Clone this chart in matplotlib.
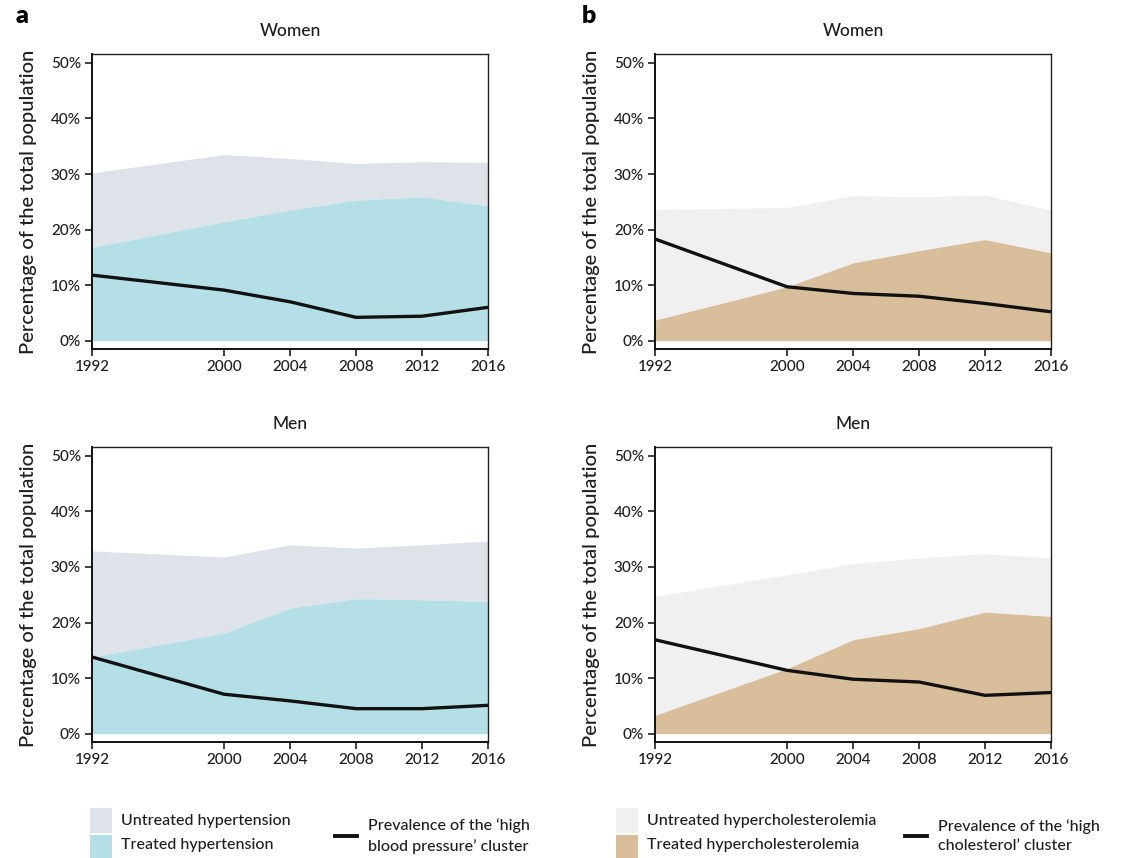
import matplotlib
matplotlib.use("Agg")
import matplotlib.pyplot as plt
from matplotlib.lines import Line2D
from matplotlib.ticker import FuncFormatter

plt.rcParams['font.family'] = ['Lato', 'DejaVu Sans']

years = [1992, 2000, 2004, 2008, 2012, 2016]
y_ticks = [0, 10, 20, 30, 40, 50]

# Panel a: hypertension (total = treated + untreated, as % of population)
htn_women_total = [30.2, 33.5, 32.8, 31.9, 32.2, 32.1]
htn_women_treated = [16.8, 21.4, 23.5, 25.3, 25.9, 24.3]
htn_women_cluster = [11.8, 9.1, 7.0, 4.2, 4.4, 6.0]

htn_men_total = [32.9, 31.8, 34.0, 33.4, 34.0, 34.7]
htn_men_treated = [13.8, 18.1, 22.6, 24.3, 24.1, 23.8]
htn_men_cluster = [13.8, 7.1, 5.9, 4.5, 4.5, 5.1]

# Panel b: hypercholesterolemia
chol_women_total = [23.6, 24.0, 26.1, 25.9, 26.2, 23.5]
chol_women_treated = [3.7, 9.7, 14.0, 16.2, 18.2, 15.8]
chol_women_cluster = [18.3, 9.7, 8.5, 8.0, 6.7, 5.2]

chol_men_total = [24.7, 28.6, 30.6, 31.6, 32.4, 31.6]
chol_men_treated = [3.3, 11.7, 16.9, 18.9, 21.9, 21.1]
chol_men_cluster = [16.9, 11.4, 9.8, 9.3, 6.9, 7.4]

HTN_UNTREATED = '#dde3e9'
HTN_TREATED = '#b5dfe6'
CHOL_UNTREATED = '#f0f0f1'
CHOL_TREATED = '#d9be9b'
TEXT = '#1e1e1e'

fig = plt.figure(figsize=(11.4, 8.58), dpi=100)

W = 396 / 1140
H = 295 / 858
lefts = [92 / 1140, 655 / 1140]
bottoms = [1 - 349 / 858, 1 - 742 / 858]


def draw_panel(ax, total, treated, cluster, c_untreated, c_treated, title):
    ax.fill_between(years, treated, total, color=c_untreated, lw=0)
    ax.fill_between(years, 0, treated, color=c_treated, lw=0)
    ax.plot(years, cluster, color='#111111', lw=2.4, solid_capstyle='butt')
    ax.set_xlim(1992, 2016)
    ax.set_ylim(-1.5, 51.6)
    ax.set_xticks(years)
    ax.set_yticks(y_ticks)
    ax.yaxis.set_major_formatter(FuncFormatter(lambda v, p: f"{int(v)}%"))
    ax.tick_params(axis='both', direction='out', length=5, width=1.2,
                   labelsize=11, colors=TEXT, pad=3)
    for lab in ax.get_xticklabels() + ax.get_yticklabels():
        lab.set_fontweight('medium')
    for s in ['left', 'bottom']:
        ax.spines[s].set_linewidth(1.4)
        ax.spines[s].set_color('#111111')
    for s in ['top', 'right']:
        ax.spines[s].set_linewidth(1.0)
        ax.spines[s].set_color('#222222')
    ax.set_title(title, fontsize=12.5, color=TEXT, pad=13, fontweight='medium')
    ax.set_ylabel('Percentage of the total population', fontsize=14.5,
                  color=TEXT, labelpad=10, fontweight='medium')


panels = [
    (0, 0, htn_women_total, htn_women_treated, htn_women_cluster, HTN_UNTREATED, HTN_TREATED, 'Women'),
    (0, 1, htn_men_total, htn_men_treated, htn_men_cluster, HTN_UNTREATED, HTN_TREATED, 'Men'),
    (1, 0, chol_women_total, chol_women_treated, chol_women_cluster, CHOL_UNTREATED, CHOL_TREATED, 'Women'),
    (1, 1, chol_men_total, chol_men_treated, chol_men_cluster, CHOL_UNTREATED, CHOL_TREATED, 'Men'),
]
for col, row, tot, trt, clu, cu, ct, ttl in panels:
    ax = fig.add_axes([lefts[col], bottoms[row], W, H])
    draw_panel(ax, tot, trt, clu, cu, ct, ttl)

fig.text(16 / 1140, 1 - 16 / 858, 'a', fontsize=18, fontweight='heavy', va='center', ha='left')
fig.text(582 / 1140, 1 - 16 / 858, 'b', fontsize=18, fontweight='heavy', va='center', ha='left')


def legend_block(x0, untreated_label, treated_label, c_untreated, c_treated,
                 line_x0, line_label):
    fx = lambda px: px / 1140
    fy = lambda py: 1 - py / 858
    fig.patches.append(plt.Rectangle((fx(x0), fy(833)), 22 / 1140, 25 / 858,
                                     transform=fig.transFigure, color=c_untreated, lw=0))
    fig.patches.append(plt.Rectangle((fx(x0), fy(858)), 22 / 1140, 23 / 858,
                                     transform=fig.transFigure, color=c_treated, lw=0))
    fig.text(fx(x0 + 31), fy(821), untreated_label, fontsize=11.5, color=TEXT,
             va='center', fontweight='medium')
    fig.text(fx(x0 + 31), fy(845), treated_label, fontsize=11.5, color=TEXT,
             va='center', fontweight='medium')
    fig.lines.append(Line2D([fx(line_x0), fx(line_x0 + 22)], [fy(836), fy(836)],
                            transform=fig.transFigure, color='#111111', lw=2.8))
    fig.text(fx(line_x0 + 33), fy(836), line_label, fontsize=11.5, color=TEXT,
             va='center', linespacing=1.45, fontweight='medium')


legend_block(90, 'Untreated hypertension', 'Treated hypertension',
             HTN_UNTREATED, HTN_TREATED, 335,
             "Prevalence of the \u2018high\nblood pressure\u2019 cluster")
legend_block(616, 'Untreated hypercholesterolemia', 'Treated hypercholesterolemia',
             CHOL_UNTREATED, CHOL_TREATED, 905,
             "Prevalence of the \u2018high\ncholesterol\u2019 cluster")

fig.savefig('out.png', dpi=100, facecolor='white')
